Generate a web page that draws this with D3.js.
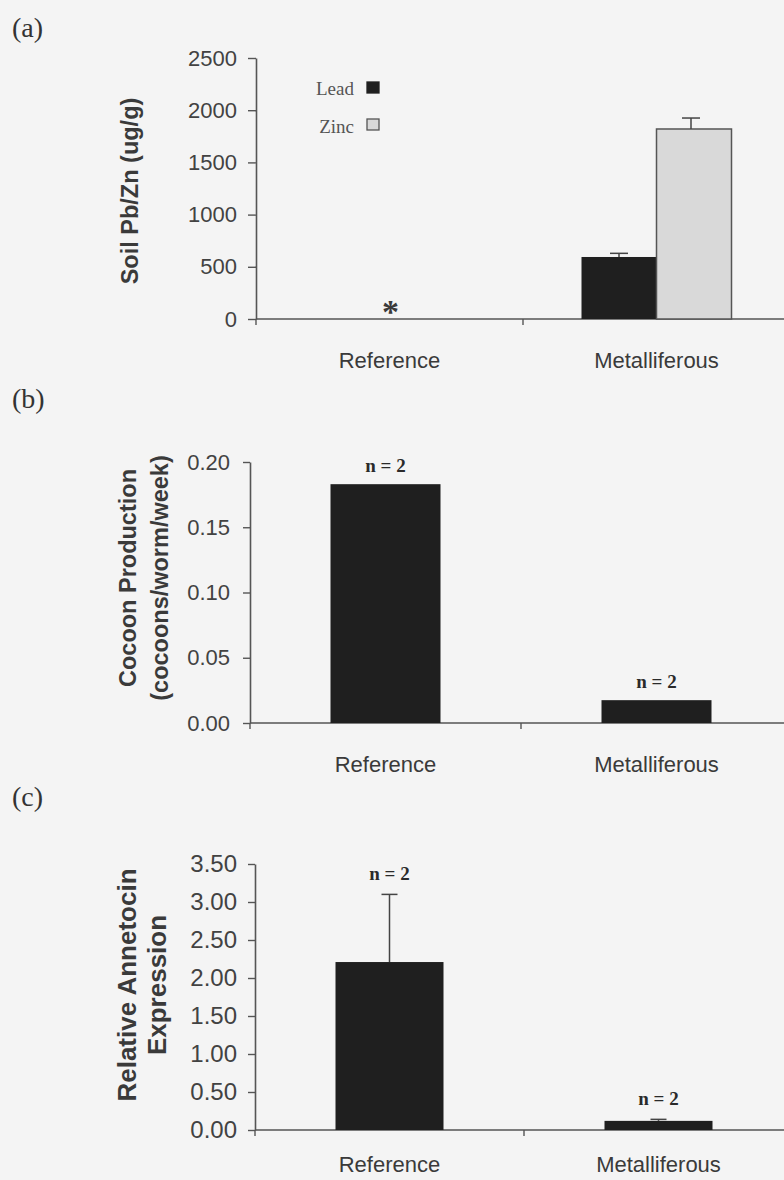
<!DOCTYPE html>
<html>
<head>
<meta charset="utf-8">
<script src="https://cdn.jsdelivr.net/npm/d3@7"></script>
<style>
  html, body { margin: 0; padding: 0; background: #f4f4f4; }
  svg { display: block; }
</style>
</head>
<body>
<script>
// ---- data ----
const categories = ["Reference", "Metalliferous"];
const metals = ["Lead", "Zinc"];

// (a) soil metal concentrations (ug/g); reference soils below detection
const soilLead = [0, 594];
const soilLeadErr = [0, 35];
const soilZinc = [0, 1820];
const soilZincErr = [0, 105];
const soilTicks = [0, 500, 1000, 1500, 2000, 2500];

// (b) cocoon production (cocoons/worm/week)
const cocoonMean = [0.183, 0.0175];
const cocoonTicks = [0.00, 0.05, 0.10, 0.15, 0.20];

// (c) relative annetocin expression
const annetocinMean = [2.21, 0.12];
const annetocinErr = [0.89, 0.02];
const annetocinTicks = [0.00, 0.50, 1.00, 1.50, 2.00, 2.50, 3.00, 3.50];

const sampleSizes = [2, 2];

// ---- page ----
const W = 784, H = 1180;
const svg = d3.select("body").append("svg").attr("width", W).attr("height", H);
svg.append("rect").attr("width", W).attr("height", H).attr("fill", "#f4f4f4");

const SANS = "Arial, 'Liberation Sans', sans-serif";
const SERIF = "'Times New Roman', 'Liberation Serif', serif";
const AXIS = "#555555";
const BAR = "#1f1f1f";
const TEXT = "#3a3a3a";

function panel(opt) {
  const g = svg.append("g");
  const x = d3.scaleBand().domain(categories).range([opt.x0, opt.x1]).padding(0);
  const y = d3.scaleLinear().domain(opt.domain).range([opt.y0, opt.y1]);

  // y axis
  const ya = d3.axisLeft(y)
    .tickValues(opt.ticks)
    .tickFormat(opt.fmt)
    .tickSizeInner(opt.tickSize)
    .tickSizeOuter(0)
    .tickPadding(opt.pad);
  const yg = g.append("g").attr("transform", `translate(${opt.x0},0)`).call(ya);
  yg.select(".domain").attr("stroke", AXIS).attr("stroke-width", 1.6);
  yg.selectAll(".tick line").attr("stroke", AXIS).attr("stroke-width", 1.4);
  yg.selectAll(".tick text")
    .attr("fill", "#424242")
    .style("font-family", SANS)
    .style("font-size", opt.tickFont + "px");

  // x axis baseline with boundary ticks between categories
  g.append("line")
    .attr("x1", opt.x0).attr("x2", W)
    .attr("y1", y(0)).attr("y2", y(0))
    .attr("stroke", AXIS).attr("stroke-width", 1.6);
  g.selectAll(".xtick").data(categories).join("line")
    .attr("class", "xtick")
    .attr("x1", d => x(d)).attr("x2", d => x(d))
    .attr("y1", y(0)).attr("y2", y(0) + 6)
    .attr("stroke", AXIS).attr("stroke-width", 1.4);

  // category labels
  g.selectAll(".xlab").data(categories).join("text")
    .attr("class", "xlab")
    .attr("x", d => x(d) + x.bandwidth() / 2)
    .attr("y", y(0) + opt.labelGap)
    .attr("text-anchor", "middle")
    .attr("fill", TEXT)
    .style("font-family", SANS)
    .style("font-size", "22px")
    .text(d => d);

  // y title (one or two lines)
  const t = g.append("text")
    .attr("transform", `translate(${opt.titleX},${opt.titleY}) rotate(-90)`)
    .attr("text-anchor", "middle")
    .attr("fill", TEXT)
    .style("font-family", SANS)
    .style("font-weight", "bold")
    .style("font-size", opt.titleFont + "px");
  opt.title.forEach((line, i) => {
    t.append("tspan").attr("x", 0).attr("y", i * opt.titleStep).attr("dy", "0.35em").text(line);
  });

  // panel letter
  svg.append("text")
    .attr("x", 12).attr("y", opt.letterY)
    .attr("fill", "#333")
    .style("font-family", SERIF)
    .style("font-size", "28px")
    .text(opt.letter);

  return { g, x, y };
}

function errorBars(g, items, y, capW) {
  const eg = g.append("g");
  eg.selectAll("line.stem").data(items).join("line")
    .attr("class", "stem")
    .attr("x1", d => d.cx).attr("x2", d => d.cx)
    .attr("y1", d => y(d.v)).attr("y2", d => y(d.v + d.e))
    .attr("stroke", "#444").attr("stroke-width", 1.5);
  eg.selectAll("line.cap").data(items).join("line")
    .attr("class", "cap")
    .attr("x1", d => d.cx - capW / 2).attr("x2", d => d.cx + capW / 2)
    .attr("y1", d => y(d.v + d.e)).attr("y2", d => y(d.v + d.e))
    .attr("stroke", "#444").attr("stroke-width", 1.5);
}

function nLabels(g, items, y) {
  g.selectAll(".nlab").data(items).join("text")
    .attr("class", "nlab")
    .attr("x", d => d.cx)
    .attr("y", d => y(d.top) - d.gap)
    .attr("text-anchor", "middle")
    .attr("fill", "#2a2a2a")
    .style("font-family", SERIF)
    .style("font-weight", "bold")
    .style("font-size", "19px")
    .text(d => "n = " + d.n);
}

// ---- (a) soil Pb / Zn ----
{
  const p = panel({
    x0: 256, x1: 790, y0: 319, y1: 58, domain: [0, 2500],
    ticks: soilTicks, fmt: d3.format("d"), tickSize: 8, pad: 11, tickFont: 22,
    labelGap: 49, title: ["Soil Pb/Zn (ug/g)"], titleX: 130, titleY: 191,
    titleFont: 23.5, titleStep: 0, letter: "(a)", letterY: 37
  });
  const groupW = 150;
  const inner = d3.scaleBand().domain(metals).range([0, groupW]).padding(0);
  const colour = d3.scaleOrdinal().domain(metals).range([BAR, "#d9d9d9"]);
  const rows = [];
  categories.forEach((c, i) => {
    const left = p.x(c) + p.x.bandwidth() / 2 - groupW / 2;
    rows.push({ cat: c, m: "Lead", v: soilLead[i], e: soilLeadErr[i], left });
    rows.push({ cat: c, m: "Zinc", v: soilZinc[i], e: soilZincErr[i], left });
  });
  const drawn = rows.filter(d => d.v > 0);
  p.g.selectAll(".bar").data(drawn).join("rect")
    .attr("class", "bar")
    .attr("x", d => d.left + inner(d.m))
    .attr("width", inner.bandwidth())
    .attr("y", d => p.y(d.v))
    .attr("height", d => p.y(0) - p.y(d.v))
    .attr("fill", d => colour(d.m))
    .attr("stroke", d => d.m === "Zinc" ? "#555" : "none")
    .attr("stroke-width", 1.5);
  errorBars(p.g, drawn.map(d => ({ cx: d.left + inner(d.m) + inner.bandwidth() / 2 + (d.m === "Zinc" ? -3 : 0), v: d.v, e: d.e })), p.y, 18);

  // reference soil: below detection marker
  p.g.append("text")
    .attr("x", p.x("Reference") + p.x.bandwidth() / 2 + 1)
    .attr("y", p.y(0) + 4)
    .attr("text-anchor", "middle")
    .attr("fill", "#3a3a3a")
    .style("font-family", SERIF)
    .style("font-weight", "bold")
    .style("font-size", "34px")
    .text("*");

  // legend
  const lg = p.g.append("g");
  metals.forEach((m, i) => {
    lg.append("text")
      .attr("x", 354).attr("y", 95 + i * 38)
      .attr("text-anchor", "end")
      .attr("fill", "#555")
      .style("font-family", SERIF)
      .style("font-size", "19px")
      .text(m);
    lg.append("rect")
      .attr("x", 367).attr("y", 82 + i * 37)
      .attr("width", 12).attr("height", 11)
      .attr("fill", colour(m))
      .attr("stroke", m === "Zinc" ? "#555" : "#222")
      .attr("stroke-width", 1.3);
  });
}

// ---- (b) cocoon production ----
{
  const p = panel({
    x0: 250, x1: 792, y0: 723, y1: 462, domain: [0, 0.2],
    ticks: cocoonTicks, fmt: d3.format(".2f"), tickSize: 7, pad: 13, tickFont: 22,
    labelGap: 49, title: ["Cocoon Production", "(cocoons/worm/week)"], titleX: 128, titleY: 578,
    titleFont: 23.5, titleStep: 32, letter: "(b)", letterY: 408
  });
  const bw = 110;
  const items = categories.map((c, i) => ({ c, v: cocoonMean[i], cx: p.x(c) + p.x.bandwidth() / 2 }));
  p.g.selectAll(".bar").data(items).join("rect")
    .attr("class", "bar")
    .attr("x", d => d.cx - bw / 2).attr("width", bw)
    .attr("y", d => p.y(d.v)).attr("height", d => p.y(0) - p.y(d.v))
    .attr("fill", BAR);
  nLabels(p.g, items.map((d, i) => ({ cx: d.cx, top: d.v, gap: 12, n: sampleSizes[i] })), p.y);
}

// ---- (c) annetocin expression ----
{
  const p = panel({
    x0: 255, x1: 793, y0: 1130, y1: 864, domain: [0, 3.5],
    ticks: annetocinTicks, fmt: d3.format(".2f"), tickSize: 7, pad: 11, tickFont: 24,
    labelGap: 42, title: ["Relative Annetocin", "Expression"], titleX: 127, titleY: 985,
    titleFont: 26, titleStep: 30, letter: "(c)", letterY: 806
  });
  const bw = 108;
  const items = categories.map((c, i) => ({ c, v: annetocinMean[i], e: annetocinErr[i], cx: p.x(c) + p.x.bandwidth() / 2 }));
  p.g.selectAll(".bar").data(items).join("rect")
    .attr("class", "bar")
    .attr("x", d => d.cx - bw / 2).attr("width", bw)
    .attr("y", d => p.y(d.v)).attr("height", d => p.y(0) - p.y(d.v))
    .attr("fill", BAR);
  errorBars(p.g, items, p.y, 16);
  nLabels(p.g, items.map((d, i) => ({ cx: d.cx, top: d.v + d.e, gap: 14, n: sampleSizes[i] })), p.y);
}
</script>
</body>
</html>
